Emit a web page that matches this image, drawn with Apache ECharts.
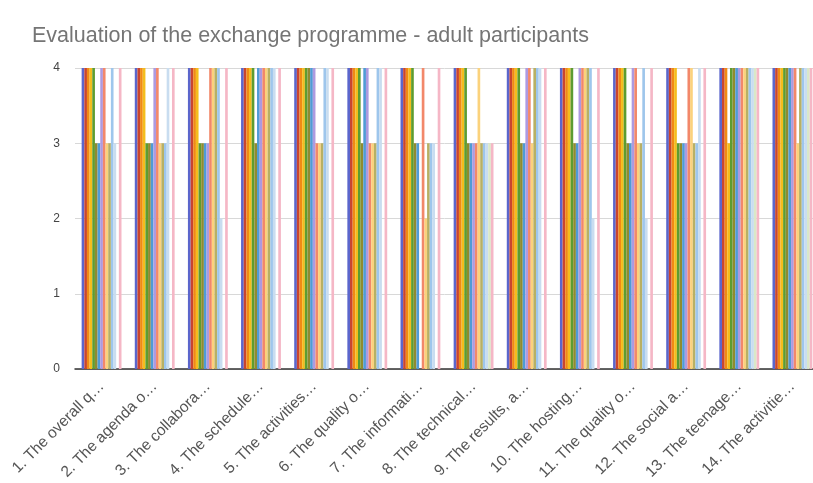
<!DOCTYPE html>
<html>
<head>
<meta charset="utf-8">
<script src="https://cdn.jsdelivr.net/npm/echarts@6/dist/echarts.min.js"></script>
<style>
  html, body { margin: 0; padding: 0; background: #fff; }
  #chart { width: 813px; height: 483px; }
</style>
</head>
<body>
<div id="chart"></div>
<script>
const categories = [
  '1. The overall q…', '2. The agenda o…', '3. The collabora…', '4. The schedule…',
  '5. The activities…', '6. The quality o…', '7. The informati…', '8. The technical…',
  '9. The results, a…', '10. The hosting…', '11. The quality o…', '12. The social a…',
  '13. The teenage…', '14. The activitie…'
];

// one array per respondent, one value per question
const r01 = [4, 4, 4, 4, 4, 4, 4, 4, 4, 4, 4, 4, 4, 4];
const r02 = [4, 4, 4, 4, 4, 4, 4, 4, 4, 4, 4, 4, 4, 4];
const r03 = [4, 4, 4, 4, 4, 4, 4, 4, 4, 4, 4, 4, 4, 4];
const r04 = [4, 4, 4, 4, 4, 4, 4, 4, 4, 4, 4, 4, 3, 4];
const r05 = [4, 3, 3, 4, 4, 4, 4, 4, 4, 4, 4, 3, 4, 4];
const r06 = [3, 3, 3, 3, 4, 3, 3, 3, 3, 3, 3, 3, 4, 4];
const r07 = [3, 3, 3, 4, 4, 4, 3, 3, 3, 3, 3, 3, 4, 4];
const r08 = [4, 4, 3, 4, 4, 4, null, 3, 4, 4, 4, 3, 4, 4];
const r09 = [4, 4, 4, 4, 3, 3, 4, 3, 4, 4, 4, 4, 4, 4];
const r10 = [3, 3, 4, 4, 3, 3, 2, 4, 3, 4, 3, 4, 4, 3];
const r11 = [3, 3, 4, 4, 3, 3, 3, 3, 4, 4, 3, 3, 4, 4];
const r12 = [4, 3, 4, 4, 4, 4, 3, 3, 4, 4, 4, 3, 4, 4];
const r13 = [3, 4, 2, 4, 4, 4, 3, 3, 4, 2, 2, 4, 4, 4];
const r14 = [null, null, null, null, null, null, null, 3, null, null, null, null, 4, 4];
const r15 = [4, 4, 4, 4, 4, 4, 4, 3, 4, 4, 4, 4, 4, 4];

const respondents = [r01, r02, r03, r04, r05, r06, r07, r08, r09, r10, r11, r12, r13, r14, r15];
const colors = [
  '#5b66cc', '#c9452f', '#f08a14', '#f4bd1c', '#5d9c30', '#8f8b2f', '#4f9bd6',
  '#ad9ae0', '#f2886a', '#fbd27c', '#b8b064', '#9ec6ec', '#c9ddf0', '#d9e8c8', '#f5b7c6'
];

const chart = echarts.init(document.getElementById('chart'));

const option = {
  color: colors,
  animation: false,
  title: {
    text: 'Evaluation of the exchange programme - adult participants',
    left: 27,
    top: 20,
    textStyle: {
      fontFamily: 'Arial, "Liberation Sans", sans-serif',
      fontSize: 21.5,
      fontWeight: 'normal',
      color: '#757575'
    }
  },
  grid: {
    left: 75,
    right: -6,
    top: 68,
    bottom: 114,
    outerBoundsMode: 'none'
  },
  xAxis: {
    type: 'category',
    data: categories,
    axisTick: { show: false },
    axisLine: { lineStyle: { color: '#333', width: 1.5 } },
    axisLabel: {
      rotate: 45,
      interval: 0,
      margin: 15,
      color: '#555',
      fontSize: 15.5,
      fontFamily: 'Arial, "Liberation Sans", sans-serif'
    }
  },
  yAxis: {
    type: 'value',
    min: 0,
    max: 4,
    interval: 1,
    axisLine: { show: false },
    axisTick: { show: false },
    axisLabel: {
      color: '#444',
      fontSize: 12,
      margin: 15,
      fontFamily: 'Arial, "Liberation Sans", sans-serif'
    },
    splitLine: { lineStyle: { color: '#d8d8d8' } }
  },
  series: respondents.map((vals, i) => ({
    name: 'Respondent ' + (i + 1),
    type: 'bar',
    data: vals,
    barGap: '0%',
    barCategoryGap: '25%'
  }))
};

chart.setOption(option);
</script>
</body>
</html>
